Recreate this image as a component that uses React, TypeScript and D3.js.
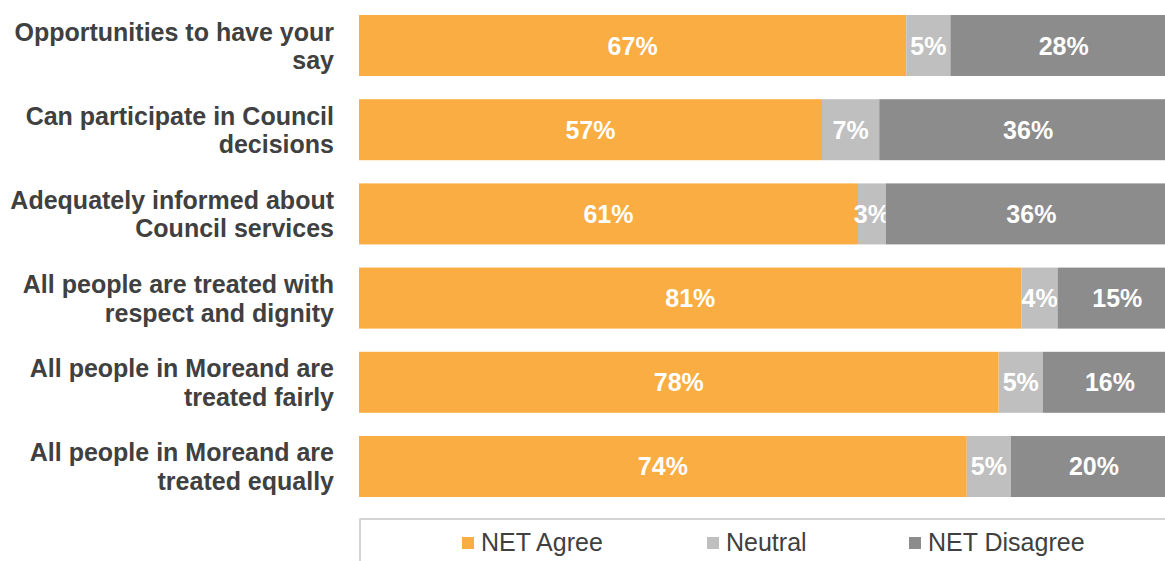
import React from "react";
import * as d3 from "d3";

const categories: string[][] = [
  ["Opportunities to have your", "say"],
  ["Can participate in Council", "decisions"],
  ["Adequately informed about", "Council services"],
  ["All people are treated with", "respect and dignity"],
  ["All people in Moreand are", "treated fairly"],
  ["All people in Moreand are", "treated equally"],
];
const agree = [66.9, 56.6, 61.0, 81.0, 78.2, 74.3];
const neutral = [5.4, 7.0, 3.4, 4.4, 5.4, 5.4];
const disagree = [27.7, 36.4, 35.6, 14.6, 16.4, 20.3];
const seriesNames = ["NET Agree", "Neutral", "NET Disagree"];
const colors = ["#F9AD42", "#BFBFBF", "#8C8C8C"];

const W = 1165;
const H = 561;

export default function App() {
  const rows = categories.map((c, i) => ({
    key: String(i),
    agree: agree[i],
    neutral: neutral[i],
    disagree: disagree[i],
  }));
  const keys = ["agree", "neutral", "disagree"];
  const stack = d3.stack<any>().keys(keys)(rows);

  const x = d3.scaleLinear().domain([0, 100]).range([359, 1177]);
  const y = d3
    .scaleBand()
    .domain(rows.map((r) => r.key))
    .range([15, 497])
    .paddingInner(0.2755)
    .paddingOuter(0);

  const bw = y.bandwidth();
  const fmt = (v: number) => `${Math.round(v)}%`;
  const font = "'Liberation Sans', Arial, sans-serif";

  const legendItems = [
    { name: seriesNames[0], tx: 481 },
    { name: seriesNames[1], tx: 726 },
    { name: seriesNames[2], tx: 928 },
  ];

  return (
    <svg
      width={W}
      height={H}
      style={{ position: "absolute", left: 0, top: 0, background: "#fff" }}
      fontFamily={font}
    >
      <rect x={0} y={0} width={W} height={H} fill="#fff" />
      {stack.map((layer, li) => (
        <g key={layer.key}>
          {layer.map((d, i) => (
            <rect
              key={i}
              x={x(d[0])}
              y={y(String(i))}
              width={x(d[1]) - x(d[0])}
              height={bw}
              fill={colors[li]}
            />
          ))}
          {layer.map((d, i) => (
            <text
              key={"t" + i}
              x={(x(d[0]) + x(d[1])) / 2}
              y={(y(String(i)) as number) + bw / 2 + 9}
              textAnchor="middle"
              fill="#fff"
              fontWeight="bold"
              fontSize={25}
            >
              {fmt(d[1] - d[0])}
            </text>
          ))}
        </g>
      ))}
      {categories.map((lines, i) => {
        const cy = (y(String(i)) as number) + bw / 2;
        return (
          <text
            key={"c" + i}
            textAnchor="end"
            fill="#404040"
            fontWeight="bold"
            fontSize={25}
          >
            {lines.map((ln, j) => (
              <tspan key={j} x={334} y={cy - 14 + 9 + j * 28.5}>
                {ln}
              </tspan>
            ))}
          </text>
        );
      })}
      <rect
        x={360}
        y={519}
        width={900}
        height={100}
        fill="none"
        stroke="#C8C8C8"
        strokeWidth={1.5}
      />
      {legendItems.map((it, i) => (
        <g key={"l" + i}>
          <rect x={it.tx - 19} y={537} width={12} height={12} fill={colors[i]} />
          <text x={it.tx} y={551} fontSize={25} fill="#404040">
            {it.name}
          </text>
        </g>
      ))}
    </svg>
  );
}
